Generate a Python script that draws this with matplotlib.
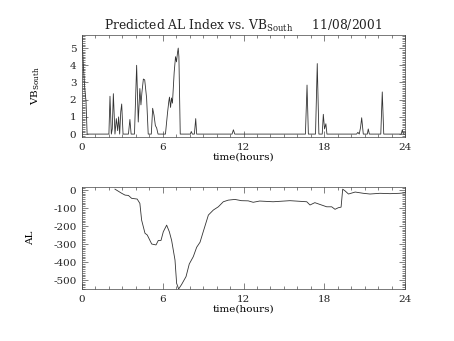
import matplotlib
matplotlib.use('Agg')
import matplotlib.pyplot as plt
from matplotlib.ticker import MultipleLocator

# VB_south (top panel)
vb_hours = [0.0, 0.1, 0.2, 0.3, 0.38, 2.0, 2.08, 2.18, 2.25, 2.33, 2.45, 2.55, 2.65, 2.72,
            2.8, 2.88, 2.95, 3.05, 3.45, 3.56, 3.65, 3.9, 4.06, 4.18, 4.3, 4.38, 4.45,
            4.56, 4.66, 4.8, 4.92, 5.15, 5.25, 5.35, 5.45, 5.55, 5.65, 6.2, 6.35, 6.45,
            6.5, 6.58, 6.65, 6.72, 6.85, 6.95, 7.02, 7.1, 7.15, 7.2, 7.3, 8.05, 8.12,
            8.2, 8.35, 8.45, 8.52, 11.15, 11.25, 11.35, 16.6, 16.72, 16.82, 17.35, 17.48,
            17.6, 17.85, 17.93, 18.02, 18.12, 18.2, 20.4, 20.5, 20.6, 20.7, 20.78, 20.9,
            21.2, 21.27, 21.35, 22.2, 22.31, 22.42, 23.72, 23.8, 23.88, 24.0]
vb_south = [5.6, 4.0, 2.7, 1.9, 0.0, 0.0, 2.2, 0.0, 0.3, 2.35, 0.0, 0.9, 0.2, 1.0,
            0.0, 1.3, 1.75, 0.0, 0.0, 0.85, 0.0, 0.0, 4.0, 0.7, 2.65, 1.7, 2.4,
            3.2, 3.15, 2.1, 0.0, 0.0, 1.5, 1.1, 0.5, 0.35, 0.0, 0.0, 1.2, 1.9,
            2.15, 1.55, 2.1, 1.8, 3.6, 4.5, 4.2, 4.75, 5.0, 4.5, 0.0, 0.0, 0.15,
            0.0, 0.0, 0.9, 0.0, 0.0, 0.25, 0.0, 0.0, 2.85, 0.0, 0.0, 4.1,
            0.0, 0.0, 1.15, 0.3, 0.6, 0.0, 0.0, 0.1, 0.0, 0.4, 0.95, 0.0,
            0.0, 0.3, 0.0, 0.0, 2.45, 0.0, 0.0, 0.25, 0.0, 0.0]

# predicted AL index (bottom panel)
al_hours = [2.45, 2.95, 3.2, 3.45, 3.69, 4.1, 4.3, 4.43, 4.68, 4.85, 5.18, 5.5, 5.67,
            5.87, 6.04, 6.29, 6.49, 6.66, 6.91, 7.03, 7.18, 7.4, 7.73, 7.97, 8.27,
            8.52, 8.77, 9.01, 9.39, 9.76, 10.13, 10.5, 10.87, 11.36, 11.85, 12.35,
            12.72, 13.2, 14.2, 15.45, 16.7, 16.94, 17.3, 17.68, 18.18, 18.55, 18.8,
            19.05, 19.25, 19.37, 19.55, 19.8, 20.3, 20.9, 21.4, 22.14, 22.9, 23.6, 24.0]
al_index = [5, -18, -28, -30, -46, -50, -74, -167, -240, -250, -300, -305, -280,
            -280, -232, -195, -232, -280, -389, -518, -550, -525, -481, -411, -370,
            -318, -290, -231, -139, -111, -93, -65, -56, -52, -59, -60,
            -68, -61, -65, -59, -65, -83, -70, -80, -93, -93, -107,
            -98, -95, 5, -5, -22, -11, -18, -22, -18, -20, -18, -15]

plt.rcParams['font.family'] = 'DejaVu Serif'
plt.rcParams['mathtext.fontset'] = 'dejavuserif'
plt.rcParams['font.size'] = 7.5
plt.rcParams['axes.unicode_minus'] = False
ink = '#222222'
plt.rcParams['text.color'] = ink
plt.rcParams['xtick.color'] = ink
plt.rcParams['ytick.color'] = ink

fig = plt.figure(figsize=(4.54, 3.41), dpi=100)
ax1 = fig.add_axes([0.1806, 0.5982, 0.7115, 0.2991])
ax2 = fig.add_axes([0.1806, 0.1525, 0.7115, 0.2991])


def idl_axes(ax, ymajor, yminor):
    ax.set_xlim(0, 24)
    ax.xaxis.set_major_locator(MultipleLocator(6))
    ax.xaxis.set_minor_locator(MultipleLocator(1))
    ax.yaxis.set_major_locator(MultipleLocator(ymajor))
    ax.yaxis.set_minor_locator(MultipleLocator(yminor))
    ax.tick_params(which='both', direction='in', top=True, right=True, width=0.4)
    ax.tick_params(which='major', length=4, pad=4)
    ax.tick_params(which='minor', length=2)
    for s in ax.spines.values():
        s.set_linewidth(0.5)
        s.set_color('#444444')
    ax.set_xlabel('time(hours)', labelpad=1)


ax1.plot(vb_hours, vb_south, color='#333333', lw=0.6)
ax1.set_ylim(-0.17, 5.76)
idl_axes(ax1, 1, 0.1)
ax1.set_ylabel('VB$_{\\mathrm{South}}$')
ax1.yaxis.set_label_coords(-0.125, 0.5)
ax1.set_title('Predicted AL Index vs. VB$_{\\mathrm{South}}$     11/08/2001',
              fontsize=8.8, pad=4)

ax2.plot(al_hours, al_index, color='#333333', lw=0.6)
ax2.set_ylim(-550, 17)
idl_axes(ax2, 100, 10)
ax2.set_ylabel('AL')
ax2.yaxis.set_label_coords(-0.145, 0.5)

fig.savefig('out.png', dpi=100)
